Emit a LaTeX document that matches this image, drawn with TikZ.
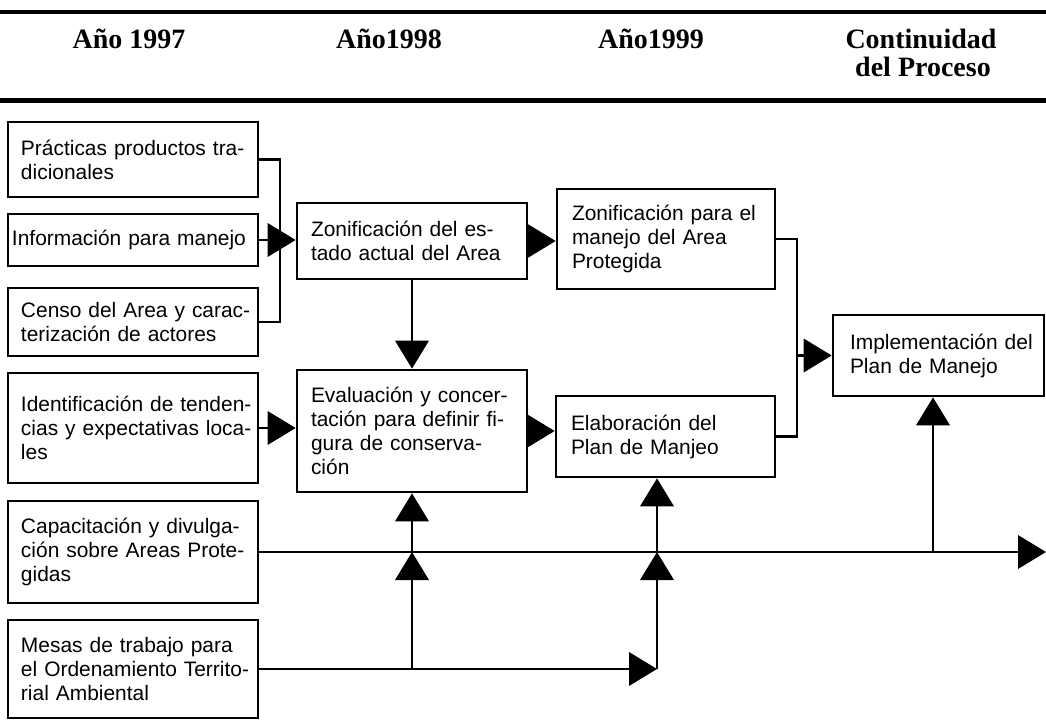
\documentclass[tikz,border=0pt]{standalone}
\usepackage{fontspec}
\setmainfont{Liberation Sans}
\newfontfamily\hdrfont{Liberation Serif}
\usetikzlibrary{arrows.meta}
\newcommand\ml[1]{\mbox{#1}}
\begin{document}
\begin{tikzpicture}[x=0.75pt,y=-0.75pt,
  box/.style={draw, line width=2pt, rectangle, inner sep=0pt, align=left,
    font=\fontsize{15.7}{18}\selectfont},
  lbox/.style={box, minimum width=187.5pt, text width=168pt},
  conn/.style={line width=2pt},
  arr/.style={line width=2pt, -{Triangle[length=21pt,width=25pt]}},
  hdr/.style={font=\hdrfont\bfseries\fontsize{21}{25}\selectfont, anchor=base, inner sep=0pt},
  rule/.style={line width=#1}]
\useasboundingbox (0,0) rectangle (1046,720);

% header rules
\coordinate (rt0) at (0,12);
\coordinate (rt1) at (1046,12);
\coordinate (rb0) at (0,100.5);
\coordinate (rb1) at (1046,100.5);
\draw[rule=3pt] (rt0) -- (rt1);
\draw[rule=4pt] (rb0) -- (rb1);

% header texts
\node[hdr] (h1) at (129,49) {Año 1997};
\node[hdr] (h2) at (389,49) {Año1998};
\node[hdr] (h3) at (651,49) {Año1999};
\node[hdr] (h4) at (921,49) {Continuidad};
\node[hdr] (h5) at (923,77) {del Proceso};

% left column
\node[lbox, minimum height=56.25pt] (B1) at (133,159.5)
  {\ml{Prácticas productos tra-}\\\ml{dicionales}};
\node[box, minimum width=187.5pt, text width=181.5pt, minimum height=39pt] (B2) at (133,240)
  {\ml{Información para manejo}};
\node[lbox, minimum height=51pt] (B3) at (133,322)
  {\ml{Censo del Area y carac-}\\\ml{terización de actores}};
\node[lbox, minimum height=82.5pt] (B4) at (133,428)
  {\ml{Identificación de tenden-}\\\ml{cias y expectativas loca-}\\\ml{les}};
\node[lbox, minimum height=76.5pt] (B5) at (133,552)
  {\ml{Capacitación y divulga-}\\\ml{ción sobre Areas Prote-}\\\ml{gidas}};
\node[lbox, minimum height=73.5pt] (B6) at (133,669)
  {\ml{Mesas de trabajo para}\\\ml{el Ordenamiento Territo-}\\\ml{rial Ambiental}};

% 1998 column
\node[box, minimum width=172.5pt, text width=151.5pt, minimum height=57pt] (Z1) at (412,241)
  {\ml{Zonificación del es-}\\\ml{tado actual del Area}};
\node[box, minimum width=172.5pt, text width=151.5pt, minimum height=91.5pt] (EV) at (412,431)
  {\ml{Evaluación y concer-}\\\ml{tación para definir fi-}\\\ml{gura de conserva-}\\\ml{ción}};

% 1999 column
\node[box, minimum width=163.5pt, text width=141pt, minimum height=75pt] (Z2) at (666,239)
  {\ml{Zonificación para el}\\\ml{manejo del Area}\\\ml{Protegida}};
\node[box, minimum width=164.25pt, text width=141.75pt, minimum height=60.75pt] (EL) at (665.5,436.5)
  {\ml{Elaboración del}\\\ml{Plan de Manjeo}};

% continuity
\node[box, minimum width=158.25pt, text width=132.75pt, minimum height=60.75pt] (IM) at (938.5,355.5)
  {\ml{Implementación del}\\\ml{Plan de Manejo}};

% coordinates
\coordinate (br1) at (280,240);
\coordinate (br2) at (797,355.5);
\coordinate (c1) at (412,552);
\coordinate (c2) at (657,552);
\coordinate (c3) at (933,552);
\coordinate (rend) at (1046,552);
\coordinate (m0) at (412,669);
\coordinate (m1) at (657,669);

% connectors
\draw[conn] (B1.east) -| (br1) |- (B3.east);
\draw[arr] (B2.east) -- (B2.east -| Z1.west);
\draw[arr] (Z1.south) -- (EV.north);
\draw[arr] (Z1.east) -- (Z1.east -| Z2.west);
\draw[arr] (B4.east) -- (B4.east -| EV.west);
\draw[arr] (EV.east) -- (EV.east -| EL.west);
\draw[conn] (Z2.east) -| (br2) |- (EL.east);
\draw[arr] (br2) -- (br2 -| IM.west);
\draw[arr] (B5.east |- rend) -- (rend);
\draw[arr] (B6.east) -- (m1);
\draw[arr] (m0) -- (c1);
\draw[arr] (c1) -- (c1 |- EV.south);
\draw[arr] (m1) -- (c2);
\draw[arr] (c2) -- (c2 |- EL.south);
\draw[arr] (c3) -- (c3 |- IM.south);
\end{tikzpicture}
\end{document}
